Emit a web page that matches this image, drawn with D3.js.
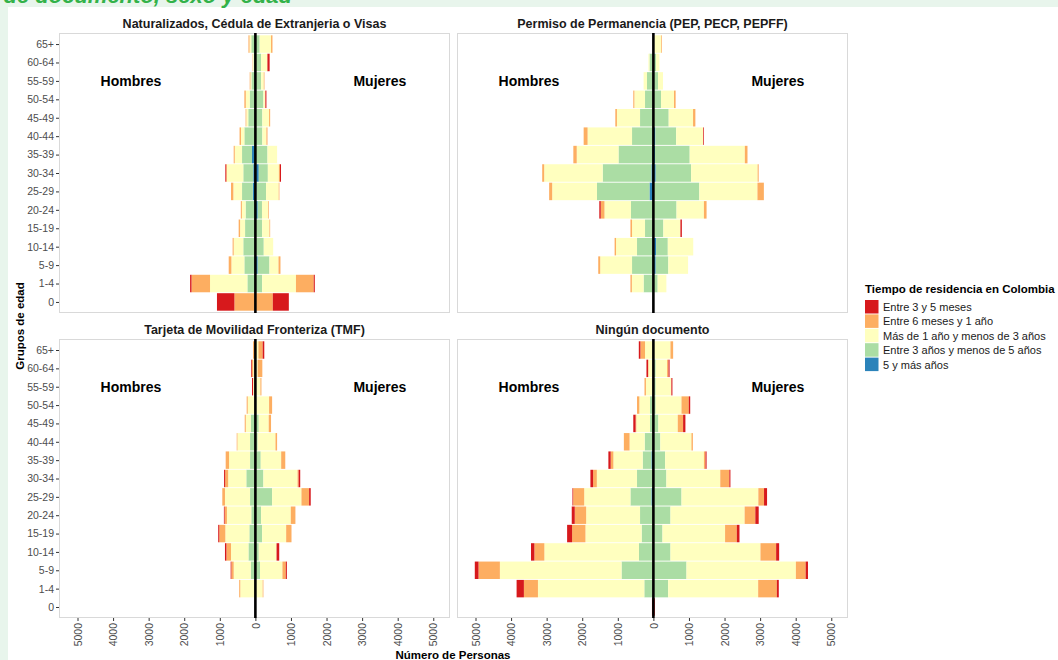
<!DOCTYPE html>
<html><head><meta charset="utf-8">
<script src="https://cdn.jsdelivr.net/npm/d3@7"></script>
<style>body{margin:0;background:#fff;} svg{display:block;font-family:"Liberation Sans",Arial,sans-serif;}</style>
</head><body><svg id="c" width="1058" height="660"></svg>
<script>
// ---------- DATA ----------
const ageGroups = ["0","1-4","5-9","10-14","15-19","20-24","25-29","30-34","35-39","40-44","45-49","50-54","55-59","60-64","65+"];
const legendLabels = ["Entre 3 y 5 meses","Entre 6 meses y 1 año","Más de 1 año y menos de 3 años","Entre 3 años y menos de 5 años","5 y más años"];
const panelTitles = ["Naturalizados, Cédula de Extranjeria o Visas","Permiso de Permanencia (PEP, PECP, PEPFF)","Tarjeta de Movilidad Fronteriza (TMF)","Ningún documento"];
const sexLabels = ["Hombres","Mujeres"];
const xTicks = [-5000,-4000,-3000,-2000,-1000,0,1000,2000,3000,4000,5000];

// Naturalizados — Hombres
const natH_5mas   = [0,0,30,0,0,20,75,60,95,0,0,0,0,0,0];
const natH_3a5    = [0,225,280,340,290,255,300,280,280,310,200,160,110,50,115];
const natH_1a3    = [0,1050,365,270,140,105,245,460,205,95,55,110,30,20,50];
const natH_6m1    = [590,520,75,30,40,30,65,20,30,40,20,40,20,10,30];
const natH_3a5m   = [490,40,0,0,0,0,0,25,0,0,0,0,0,0,0];
// Naturalizados — Mujeres
const natM_5mas   = [0,0,65,0,0,65,30,95,0,0,0,0,0,0,0];
const natM_3a5    = [0,190,330,235,190,120,270,255,340,195,195,225,160,160,120];
const natM_1a3    = [0,950,255,265,205,170,355,310,270,115,190,55,75,170,320];
const natM_6m1    = [490,500,55,0,20,20,20,30,0,30,30,0,20,10,40];
const natM_3a5m   = [450,30,0,0,0,0,0,30,0,0,0,30,0,60,0];

// Permiso de Permanencia — Hombres
const pepH_5mas   = [0,0,0,20,0,0,110,55,30,20,0,0,0,0,0];
const pepH_3a5    = [0,275,600,440,235,630,1475,1370,950,580,375,235,180,110,10];
const pepH_1a3    = [0,330,895,590,365,745,1260,1645,1175,1250,650,300,95,30,10];
const pepH_6m1    = [0,40,55,40,45,105,85,55,95,110,45,30,0,0,0];
const pepH_3a5m   = [0,0,0,0,0,40,0,0,0,0,0,0,0,0,0];
// Permiso de Permanencia — Mujeres
const pepM_5mas   = [0,0,65,75,0,0,0,65,45,55,0,0,0,0,0];
const pepM_3a5    = [0,120,355,330,280,650,1290,995,975,585,430,215,130,75,20];
const pepM_1a3    = [0,245,555,715,480,770,1635,1870,1550,760,685,365,140,95,200];
const pepM_6m1    = [0,0,0,0,0,75,180,30,75,0,65,45,0,0,20];
const pepM_3a5m   = [0,0,0,0,40,0,0,0,0,20,0,0,0,0,0];

// TMF — Hombres
const tmfH_5mas   = [0,0,0,0,0,0,0,0,0,0,0,0,0,0,0];
const tmfH_3a5    = [0,0,130,195,170,115,150,255,150,150,130,0,0,0,0];
const tmfH_1a3    = [0,425,480,490,675,685,705,510,590,355,140,215,65,60,10];
const tmfH_6m1    = [0,30,65,130,170,65,75,85,95,20,30,30,0,40,55];
const tmfH_3a5m   = [0,0,20,40,30,20,0,30,0,0,0,0,30,20,0];
// TMF — Mujeres
const tmfM_5mas   = [0,0,0,0,0,0,0,0,0,0,0,0,0,0,0];
const tmfM_3a5    = [0,0,130,95,190,160,470,225,150,65,95,30,0,0,0];
const tmfM_1a3    = [0,205,630,500,675,835,825,960,575,500,280,355,140,65,85];
const tmfM_6m1    = [0,20,95,0,150,130,215,30,115,45,65,85,30,130,120];
const tmfM_3a5m   = [0,0,30,75,0,0,45,45,0,0,0,0,0,0,45];

// Ningún documento — Hombres
const ninH_5mas   = [0,0,0,0,0,0,55,0,55,0,0,0,0,0,0];
const ninH_3a5    = [0,255,895,405,330,375,590,460,245,245,95,95,30,0,0];
const ninH_1a3    = [0,2990,3420,2660,1580,1515,1300,1130,825,425,385,300,180,140,235];
const ninH_6m1    = [0,395,600,280,375,320,310,105,75,160,20,65,40,10,130];
const ninH_3a5m   = [40,205,105,95,140,85,20,75,65,0,65,0,0,45,45];
// Ningún documento — Mujeres
const ninM_5mas   = [0,0,0,0,0,0,0,0,0,0,0,0,0,0,0];
const ninM_3a5    = [0,415,930,480,255,480,790,365,330,195,140,65,65,65,0];
const ninM_1a3    = [0,2530,3075,2530,1760,2085,2160,1515,1090,875,545,725,440,320,480];
const ninM_6m1    = [0,525,275,440,330,300,160,255,45,40,150,205,0,40,75];
const ninM_3a5m   = [40,55,65,85,75,95,85,30,30,0,65,40,30,30,0];

// ---------- STYLE ----------
// colours in legend order (red -> blue)
const colors = ["#d7191c","#fdae61","#ffffbf","#abdda4","#2b83ba"];

// stacks from the centre outward: 5+ años, 3-5 años, 1-3 años, 6m-1 año, 3-5 meses
const panels = [
  {title: panelTitles[0], h:[natH_5mas,natH_3a5,natH_1a3,natH_6m1,natH_3a5m], m:[natM_5mas,natM_3a5,natM_1a3,natM_6m1,natM_3a5m]},
  {title: panelTitles[1], h:[pepH_5mas,pepH_3a5,pepH_1a3,pepH_6m1,pepH_3a5m], m:[pepM_5mas,pepM_3a5,pepM_1a3,pepM_6m1,pepM_3a5m]},
  {title: panelTitles[2], h:[tmfH_5mas,tmfH_3a5,tmfH_1a3,tmfH_6m1,tmfH_3a5m], m:[tmfM_5mas,tmfM_3a5,tmfM_1a3,tmfM_6m1,tmfM_3a5m]},
  {title: panelTitles[3], h:[ninH_5mas,ninH_3a5,ninH_1a3,ninH_6m1,ninH_3a5m], m:[ninM_5mas,ninM_3a5,ninM_1a3,ninM_6m1,ninM_3a5m]}
];
const stackColors = [colors[4],colors[3],colors[2],colors[1],colors[0]];

const svg = d3.select("#c");
svg.append("rect").attr("width",1058).attr("height",660).attr("fill","#e8f5ec");
svg.append("rect").attr("x",8).attr("y",7).attr("width",1050).attr("height",653).attr("fill","#ffffff");
svg.append("text").attr("x",292).attr("y",3).attr("text-anchor","end")
  .attr("font-size",22).attr("font-weight","bold").attr("font-style","italic").attr("fill","#33b249")
  .text("Población por tipo de documento, sexo y edad");

const layout = [
  {x:59, y:33, w:391, h:280, left:true, bottom:false},
  {x:457, y:33, w:391, h:280, left:false, bottom:false},
  {x:59, y:339, w:391, h:279, left:true, bottom:true},
  {x:457, y:339, w:391, h:279, left:false, bottom:true}
];

panels.forEach((p,pi)=>{
  const L = layout[pi];
  const xs = d3.scaleLinear().domain([-5520,5470]).range([L.x, L.x+L.w]);
  const ys = d3.scalePoint().domain(ageGroups.slice().reverse()).range([L.y, L.y+L.h]).padding(0.6);
  const bh = ys.step()*0.95;
  const g = svg.append("g");
  g.append("rect").attr("x",L.x).attr("y",L.y).attr("width",L.w).attr("height",L.h).attr("fill","#fff");
  [["h",-1],["m",1]].forEach(([key,sign])=>{
    ageGroups.forEach((age,i)=>{
      let cum = 0;
      p[key].forEach((arr,ci)=>{
        const v = arr[i];
        if(v>0){
          const a = xs(sign*cum), b = xs(sign*(cum+v));
          g.append("rect").attr("x",Math.min(a,b)).attr("y",ys(age)-bh/2)
            .attr("width",Math.abs(b-a)).attr("height",bh).attr("fill",stackColors[ci]);
        }
        cum += v;
      });
    });
  });
  g.append("rect").attr("x",L.x+0.5).attr("y",L.y+0.5).attr("width",L.w-1).attr("height",L.h-1)
    .attr("fill","none").attr("stroke","#d9d9d9").attr("stroke-width",1);
  g.append("line").attr("x1",xs(0)).attr("x2",xs(0)).attr("y1",L.y).attr("y2",L.y+L.h)
    .attr("stroke","#000").attr("stroke-width",2.6);
  g.append("text").attr("x",xs(-3500)).attr("y",ys("55-59")+5).attr("text-anchor","middle")
    .attr("font-size",14).attr("font-weight","bold").attr("fill","#000").text(sexLabels[0]);
  g.append("text").attr("x",xs(3500)).attr("y",ys("55-59")+5).attr("text-anchor","middle")
    .attr("font-size",14).attr("font-weight","bold").attr("fill","#000").text(sexLabels[1]);
  svg.append("text").attr("x",L.x+L.w/2).attr("y",L.y-5).attr("text-anchor","middle")
    .attr("font-size",12.5).attr("font-weight","bold").attr("fill","#1a1a1a").text(p.title);

  if(L.left){
    const ax = svg.append("g").attr("transform",`translate(${L.x},0)`)
      .call(d3.axisLeft(ys).tickSize(3).tickPadding(2));
    ax.select(".domain").remove();
    ax.selectAll("line").attr("stroke","#333");
    ax.selectAll("text").attr("font-size",10.5).attr("fill","#4d4d4d").attr("font-family","Liberation Sans, Arial, sans-serif");
  }
  if(L.bottom){
    const ax = svg.append("g").attr("transform",`translate(0,${L.y+L.h})`)
      .call(d3.axisBottom(xs).tickValues(xTicks).tickFormat(d=>Math.abs(d)).tickSize(3));
    ax.select(".domain").remove();
    ax.selectAll("line").attr("stroke","#333");
    ax.selectAll("text").attr("font-size",10.5).attr("fill","#4d4d4d").attr("font-family","Liberation Sans, Arial, sans-serif")
      .attr("transform","rotate(-90)").attr("x",-5).attr("y",0).attr("dy","0.35em").attr("text-anchor","end");
  }
});

// axis titles
svg.append("text").attr("transform","translate(24,326) rotate(-90)").attr("text-anchor","middle")
  .attr("font-size",11.5).attr("font-weight","bold").attr("fill","#000").text("Grupos de edad");
svg.append("text").attr("x",453).attr("y",659).attr("text-anchor","middle")
  .attr("font-size",11.5).attr("font-weight","bold").attr("fill","#000").text("Número de Personas");

// legend
const lg = svg.append("g");
lg.append("text").attr("x",865).attr("y",293).attr("font-size",11.5).attr("font-weight","bold").attr("fill","#000")
  .text("Tiempo de residencia en Colombia");
legendLabels.forEach((lab,i)=>{
  const y = 300 + i*14.4;
  lg.append("rect").attr("x",865).attr("y",y).attr("width",13.5).attr("height",13.5).attr("fill",colors[i]);
  lg.append("text").attr("x",883).attr("y",y+11).attr("font-size",11).attr("fill","#1a1a1a").text(lab);
});
</script></body></html>
